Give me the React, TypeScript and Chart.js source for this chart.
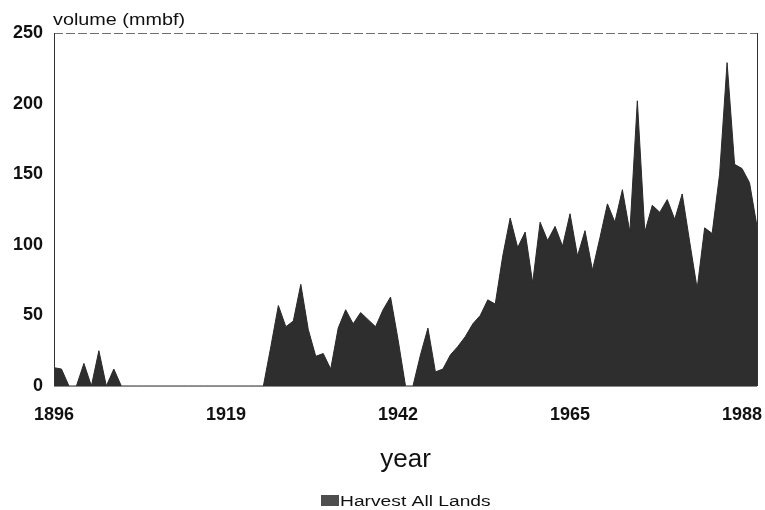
import React, { useEffect, useRef } from "react";
import { Chart, registerables } from "chart.js";

Chart.register(...registerables);

const FONT = "'Liberation Sans', Arial, Helvetica, sans-serif";

// Years 1896 .. 1990
const years: string[] = [
  "1896", "1897", "1898", "1899", "1900", "1901", "1902", "1903", "1904", "1905",
  "1906", "1907", "1908", "1909", "1910", "1911", "1912", "1913", "1914", "1915",
  "1916", "1917", "1918", "1919", "1920", "1921", "1922", "1923", "1924", "1925",
  "1926", "1927", "1928", "1929", "1930", "1931", "1932", "1933", "1934", "1935",
  "1936", "1937", "1938", "1939", "1940", "1941", "1942", "1943", "1944", "1945",
  "1946", "1947", "1948", "1949", "1950", "1951", "1952", "1953", "1954", "1955",
  "1956", "1957", "1958", "1959", "1960", "1961", "1962", "1963", "1964", "1965",
  "1966", "1967", "1968", "1969", "1970", "1971", "1972", "1973", "1974", "1975",
  "1976", "1977", "1978", "1979", "1980", "1981", "1982", "1983", "1984", "1985",
  "1986", "1987", "1988", "1989", "1990",
];

// Harvest volume, mmbf
const harvest: number[] = [
  13, 12, 0, 0, 16, 0, 25, 0, 12, 0,
  0, 0, 0, 0, 0, 0, 0, 0, 0, 0,
  0, 0, 0, 0, 0, 0, 0, 0, 0, 28,
  57, 42, 46, 72, 40, 21, 23, 12, 41, 54,
  44, 52, 47, 42, 54, 63, 33, 0, 0, 22,
  41, 10, 12, 22, 28, 35, 44, 50, 61, 58,
  92, 119, 98, 109, 73, 116, 103, 113, 99, 122,
  92, 110, 82, 105, 129, 116, 139, 109, 202, 109,
  128, 123, 132, 118, 136, 102, 69, 112, 108, 150,
  229, 157, 154, 144, 113,
];

const xTickLabels: string[] = ["1896", "1919", "1942", "1965", "1988"];
const yTicks: number[] = [0, 50, 100, 150, 200, 250];

const seriesName = "Harvest All Lands";
const yTitle = "volume (mmbf)";
const xTitle = "year";

const decorPlugin = {
  id: "decor",
  afterDraw(chart: any) {
    const { ctx, chartArea: a } = chart;
    ctx.save();
    // top dashed border
    ctx.lineWidth = 1;
    ctx.strokeStyle = "#6e6e6e";
    ctx.setLineDash([9, 3]);
    ctx.beginPath();
    ctx.moveTo(a.left, a.top + 0.5);
    ctx.lineTo(a.right, a.top + 0.5);
    ctx.stroke();
    ctx.setLineDash([]);
    // bottom baseline
    ctx.strokeStyle = "#8a8a8a";
    ctx.beginPath();
    ctx.moveTo(a.left, a.bottom + 0.5);
    ctx.lineTo(a.right, a.bottom + 0.5);
    ctx.stroke();
    // left & right borders
    ctx.strokeStyle = "#333";
    ctx.beginPath();
    ctx.moveTo(a.left + 0.5, a.top);
    ctx.lineTo(a.left + 0.5, a.bottom);
    ctx.moveTo(a.right + 0.5, a.top);
    ctx.lineTo(a.right + 0.5, a.bottom);
    ctx.stroke();

    // y axis title (horizontal, above plot)
    ctx.fillStyle = "#111";
    ctx.textBaseline = "alphabetic";
    ctx.textAlign = "left";
    ctx.font = `16.5px ${FONT}`;
    ctx.save();
    ctx.translate(a.left - 1, 25);
    ctx.scale(1.2, 1);
    ctx.fillText(yTitle, 0, 0);
    ctx.restore();

    // legend
    ctx.fillStyle = "#4e4e4e";
    ctx.fillRect(321, 495, 18, 11);
    ctx.fillStyle = "#111";
    ctx.font = `15.5px ${FONT}`;
    ctx.save();
    ctx.translate(340, 506);
    ctx.scale(1.24, 1);
    ctx.fillText(seriesName, 0, 0);
    ctx.restore();

    ctx.restore();
  },
};

export default function App() {
  const canvasRef = useRef<HTMLCanvasElement | null>(null);

  useEffect(() => {
    const canvas = canvasRef.current;
    if (!canvas) return;
    const chart = new Chart(canvas, {
      type: "line",
      data: {
        labels: years,
        datasets: [
          {
            label: seriesName,
            data: harvest,
            fill: "origin",
            backgroundColor: "#2e2e2e",
            borderColor: "#2a2a2a",
            borderWidth: 1,
            pointRadius: 0,
            tension: 0,
          },
        ],
      },
      options: {
        responsive: false,
        animation: false,
        maintainAspectRatio: false,
        layout: { padding: { top: 33, right: 8, left: 0, bottom: 0 } },
        plugins: {
          legend: { display: false },
          tooltip: { enabled: false },
        },
        scales: {
          x: {
            type: "category",
            offset: false,
            grid: { display: false, drawTicks: false },
            border: { display: false },
            ticks: {
              autoSkip: false,
              maxRotation: 0,
              minRotation: 0,
              padding: 18,
              color: "#111",
              font: { family: FONT, size: 18, weight: "bold" },
              callback: (_v: any, i: number) =>
                xTickLabels.includes(years[i]) ? years[i] : "",
            },
            title: {
              display: true,
              text: xTitle,
              color: "#111",
              font: { family: FONT, size: 26 },
              padding: { top: 0, bottom: 35 },
            },
            afterFit: (s: any) => {
              s.height = 124;
              s.paddingLeft = 0;
              s.paddingRight = 0;
            },
          },
          y: {
            min: 0,
            max: 250,
            grid: { display: false, drawTicks: false },
            border: { display: false },
            afterBuildTicks: (s: any) => {
              s.ticks = yTicks.map((v) => ({ value: v }));
            },
            ticks: {
              padding: 11,
              color: "#111",
              font: { family: FONT, size: 18, weight: "bold" },
            },
            afterFit: (s: any) => {
              s.width = 54;
              s.paddingTop = 0;
              s.paddingBottom = 0;
            },
          },
        },
      },
      plugins: [decorPlugin],
    });
    return () => chart.destroy();
  }, []);

  return (
    <div style={{ position: "absolute", left: 0, top: 0, width: 765, height: 510, background: "#fff" }}>
      <canvas ref={canvasRef} width={765} height={510} style={{ display: "block" }} />
    </div>
  );
}
